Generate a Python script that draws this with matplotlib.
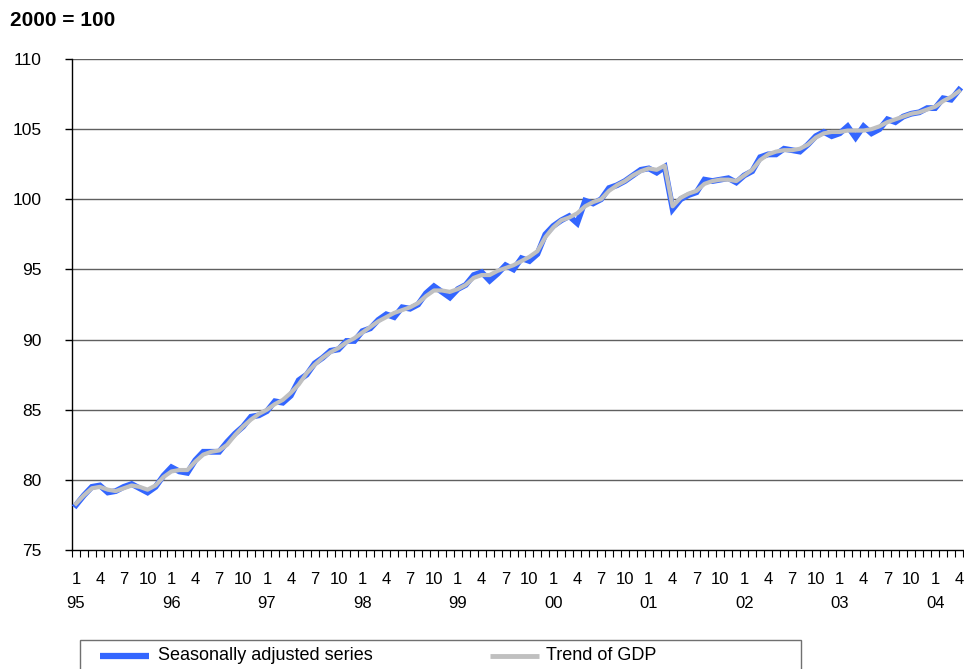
import matplotlib
matplotlib.use("Agg")
import matplotlib.pyplot as plt
from matplotlib.lines import Line2D
from matplotlib.patches import Rectangle
from matplotlib.transforms import blended_transform_factory

plt.rcParams['font.family'] = ['Liberation Sans', 'DejaVu Sans']

# Monthly data, Jan 1995 .. Apr 2004
years = ['95', '96', '97', '98', '99', '00', '01', '02', '03', '04']
month_labels = ['1', '4', '7', '10']

trend = [
    78.3, 78.9, 79.4, 79.5, 79.3, 79.2, 79.4, 79.6, 79.5, 79.3, 79.6, 80.2,   # 1995
    80.6, 80.7, 80.7, 81.3, 81.8, 82.0, 82.1, 82.5, 83.2, 83.8, 84.3, 84.7,   # 1996
    85.0, 85.4, 85.7, 86.2, 86.8, 87.6, 88.2, 88.7, 89.1, 89.4, 89.8, 90.1,   # 1997
    90.5, 90.9, 91.3, 91.6, 91.9, 92.1, 92.3, 92.6, 93.1, 93.5, 93.5, 93.4,   # 1998
    93.6, 93.9, 94.4, 94.6, 94.6, 94.9, 95.1, 95.3, 95.6, 95.9, 96.3, 97.3,   # 1999
    98.0, 98.5, 98.7, 99.0, 99.5, 99.8, 100.0, 100.6, 101.0, 101.3, 101.7, 102.0,  # 2000
    102.2, 102.1, 102.4, 99.5, 100.1, 100.4, 100.6, 101.1, 101.3, 101.4, 101.4, 101.3,  # 2001
    101.7, 102.1, 102.8, 103.2, 103.4, 103.5, 103.5, 103.6, 103.9, 104.4, 104.7, 104.8,  # 2002
    104.8, 104.9, 104.9, 104.9, 105.0, 105.2, 105.5, 105.7, 105.9, 106.1, 106.2, 106.4,  # 2003
    106.6, 107.0, 107.3, 107.7,                                                # 2004
]

seas_adj = [
    78.2, 78.9, 79.5, 79.6, 79.1, 79.2, 79.5, 79.7, 79.4, 79.1, 79.5, 80.3,   # 1995
    80.9, 80.6, 80.5, 81.4, 82.0, 82.0, 82.0, 82.7, 83.3, 83.8, 84.5, 84.6,   # 1996
    84.9, 85.6, 85.5, 86.0, 87.1, 87.5, 88.3, 88.7, 89.2, 89.3, 89.9, 89.9,   # 1997
    90.6, 90.8, 91.4, 91.8, 91.6, 92.3, 92.2, 92.5, 93.3, 93.8, 93.4, 93.0,   # 1998
    93.6, 93.9, 94.6, 94.8, 94.2, 94.7, 95.3, 95.0, 95.8, 95.6, 96.1, 97.5,   # 1999
    98.1, 98.5, 98.8, 98.3, 99.9, 99.7, 100.0, 100.8, 101.0, 101.3, 101.7, 102.1,  # 2000
    102.2, 101.9, 102.3, 99.3, 100.0, 100.3, 100.5, 101.4, 101.3, 101.4, 101.5, 101.2,  # 2001
    101.7, 102.0, 103.0, 103.2, 103.2, 103.6, 103.5, 103.4, 103.9, 104.5, 104.8, 104.5,  # 2002
    104.7, 105.2, 104.4, 105.2, 104.7, 105.0, 105.7, 105.5, 105.9, 106.1, 106.2, 106.5,  # 2003
    106.5, 107.2, 107.1, 107.8,                                                # 2004
]

W, H = 964, 669
fig = plt.figure(figsize=(W / 100, H / 100), dpi=100)
ax = fig.add_axes([72 / W, 1 - 550 / H, (963 - 72) / W, (550 - 59) / H])

n = len(trend)
x = list(range(n))

sa_line, = ax.plot(x, seas_adj, color='#3366FF', lw=4.2, solid_joinstyle='miter',
                   label='Seasonally adjusted series', zorder=3)
tr_line, = ax.plot(x, trend, color='#C0C0C0', lw=3.0, label='Trend of GDP', zorder=4)

ax.set_xlim(-0.5, n - 0.5)
ax.set_ylim(75, 110)

# grid
for v in range(80, 111, 5):
    ax.axhline(v, color='#606060', lw=1.0, zorder=1)

for s in ['top', 'right']:
    ax.spines[s].set_visible(False)
ax.spines['left'].set_color('black')
ax.spines['bottom'].set_color('black')
ax.spines['left'].set_linewidth(1.0)
ax.spines['bottom'].set_linewidth(1.0)

ax.set_yticks(range(75, 111, 5))
ax.set_yticklabels([str(v) for v in range(75, 111, 5)], fontsize=12.5)
ax.tick_params(axis='y', direction='out', length=5, width=1, pad=17)

# x: minor ticks between months, labels at Jan/Apr/Jul/Oct
ax.set_xticks([i - 0.5 for i in range(n + 1)], minor=True)
ax.tick_params(axis='x', which='minor', direction='out', length=5, width=0.8)
lab_pos = [i for i in range(n) if i % 3 == 0]
ax.set_xticks(lab_pos)
ax.set_xticklabels([month_labels[(i % 12) // 3] for i in lab_pos], fontsize=12)
ax.tick_params(axis='x', which='major', length=0, pad=16)

trans = blended_transform_factory(ax.transData, ax.transAxes)
for k, yl in enumerate(years):
    ax.text(12 * k, -54 / 491, yl, transform=trans, ha='center', va='center', fontsize=12)

fig.text(10 / W, 1 - 20 / H, '2000 = 100', fontsize=15, fontweight='bold', ha='left', va='center')

# legend (frame extends beyond bottom edge)
fig.add_artist(Rectangle((80 / W, -0.05), (801 - 80) / W, (669 - 640) / H + 0.05,
                         transform=fig.transFigure, fill=False, edgecolor='#707070', lw=1.0))
ly = 1 - 656 / H
for line, x0, x1, tx in [(sa_line, 100, 149, 158), (tr_line, 490, 539, 546)]:
    fig.add_artist(Line2D([x0 / W, x1 / W], [ly, ly], transform=fig.transFigure,
                          color=line.get_color(), lw=4.5 if line is sa_line else 3.5,
                          solid_capstyle='butt'))
    fig.text(tx / W, ly, line.get_label(), fontsize=13, ha='left', va='center')

fig.savefig('out.png', dpi=100)
